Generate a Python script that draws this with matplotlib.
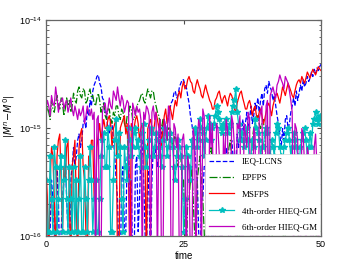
import numpy as np
import matplotlib
matplotlib.use("Agg")
import matplotlib.pyplot as plt

plt.rcParams['font.family'] = ['Liberation Sans', 'DejaVu Sans']

# error values in units of 1e-16, read every 0.25 time units (t = 0 ... 50)
UNIT = 1e-16

ieq_lcns = [2.2, 0.5, 0.5, 1.1, 3.3, 2.2, 1.1, 0.5, 4.4, 2.2, 0.5, 1.1, 2.2, 3.3, 5.5, 2.2, 1.1, 0.5, 3.3, 4.4,
            6.6, 4.4, 5.5, 7.7, 8.8, 6.6, 7.7, 11, 12, 9.9, 15, 13, 18, 16, 22, 25, 27, 30, 31, 26,
            24, 19, 18, 14, 13, 9.9, 8.8, 12, 11, 7.7, 5.5, 3.3, 2.2, 0.5, 0.5, 3.3, 4.4, 1.1, 1.1, 5.5,
            6.6, 2.2, 3.3, 0.5, 0.5, 4.4, 5.5, 1.1, 2.2, 6.6, 7.7, 3.3, 1.1, 0.5, 4.4, 2.2, 0.5, 3.3, 6.6, 5.5,
            6.6, 4.4, 5.5, 9.9, 8.8, 11, 12, 9.9, 9.9, 13, 15, 17, 18, 21, 22, 19, 20, 24, 26, 28,
            28, 25, 24, 20, 17, 13, 11, 8.8, 6.6, 4.4, 3.3, 1.1, 0.5, 2.2, 2.2, 4.4, 4.4, 1.1, 1.1, 3.3,
            3.3, 0.5, 2.2, 1.1, 4.4, 2.2, 5.5, 0.5, 1.1, 3.3, 2.2, 6.6, 4.4, 1.1, 3.3, 7.7, 5.5, 2.2, 4.4, 8.8,
            6.6, 9.9, 7.7, 12, 8.8, 11, 14, 9.9, 12, 16, 11, 13, 17, 15, 19, 14, 18, 21, 16, 23,
            25, 21, 27, 24, 22, 18, 20, 16, 13, 11, 8.8, 6.6, 9.9, 7.7, 12, 13, 9.9, 11, 14, 16,
            19, 16, 22, 18, 21, 25, 22, 28, 24, 26, 30, 27, 29, 33, 30, 35, 32, 36, 34, 37, 39]

epfps = [13, 16, 14, 12, 18, 15, 14, 17, 20, 16, 15, 19, 17, 13, 15, 19, 16, 18, 14, 16,
         21, 18, 17, 22, 24, 20, 19, 23, 22, 17, 18, 21, 23, 19, 20, 17, 16, 19, 21, 18,
         14, 16, 17, 13, 12, 15, 15, 12, 11, 14, 13, 16, 16, 13, 12, 15, 14, 11, 10, 13,
         13, 16, 15, 12, 12, 14, 16, 17, 18, 20, 21, 18, 17, 20, 23, 21, 19, 22, 22, 18,
         16, 14, 13, 11, 9.9, 12, 12, 9.9, 7.7, 10, 10, 8.8, 6.6, 7.7, 8.8, 6.6, 4.4, 5.5, 5.5, 3.3,
         3.3, 1.1, 0.5, 2.2, 2.2, 3.3, 4.4, 2.2, 1.1, 0.5, 3.3, 4.4, 5.5, 3.3, 2.2, 1.1, 0.5, 2.2, 3.3, 5.5,
         6.6, 4.4, 4.4, 3.3, 2.2, 1.1, 0.5, 0.5, 1.1, 2.2, 3.3, 4.4, 4.4, 6.6, 7.7, 5.5, 5.5, 3.3, 2.2, 1.1,
         0.5, 2.2, 3.3, 1.1, 1.1, 3.3, 4.4, 2.2, 2.2, 4.4, 7.7, 9.9, 11, 12, 13, 11, 9.9, 11, 12, 8.8,
         3.3, 2.2, 1.1, 0.5, 0.5, 2.2, 4.4, 3.3, 3.3, 5.5, 5.5, 2.2, 2.2, 0.5, 1.1, 2.2, 3.3, 2.2, 2.2, 4.4,
         4.4, 1.1, 0.5, 0.5, 2.2, 3.3, 3.3, 2.2, 1.1, 1.1, 4.4, 3.3, 2.2, 2.2, 1.1, 0.5, 0.5, 2.2, 3.3, 1.1, 1.1]

msfps = [4.4, 2.2, 0.5, 3.3, 6.6, 5.5, 2.2, 0.5, 5.5, 7.7, 8.8, 3.3, 1.1, 4.4, 3.3, 6.6, 7.7, 2.2, 0.5, 4.4,
         5.5, 7.7, 2.2, 0.5, 6.6, 8.8, 9.9, 4.4, 3.3, 1.1, 0.5, 5.5, 4.4, 7.7, 7.7, 2.2, 2.2, 6.6, 8.8, 11,
         7.7, 10, 12, 9.9, 9.9, 12, 13, 11, 6.6, 9.9, 11, 12, 0.5, 0.5, 10, 11, 12, 13, 8.8, 11,
         3.3, 0.5, 11, 10, 9.9, 12, 13, 11, 7.7, 9.9, 11, 8.8, 5.5, 0.5, 9.9, 11, 12, 10, 8.8, 11,
         14, 12, 10, 12, 6.6, 9.9, 13, 15, 11, 13, 16, 14, 12, 15, 18, 16, 20, 22, 19, 24,
         27, 23, 24, 28, 30, 27, 26, 22, 21, 25, 28, 25, 23, 20, 19, 22, 25, 22, 20, 18,
         17, 15, 15, 18, 19, 21, 22, 19, 17, 19, 20, 18, 16, 19, 21, 20, 18, 15, 14, 17,
         19, 21, 22, 19, 17, 15, 15, 17, 18, 16, 13, 15, 16, 13, 12, 14, 15, 13, 11, 12,
         14, 16, 17, 15, 13, 16, 18, 20, 21, 19, 17, 20, 24, 22, 20, 23, 26, 24, 22, 20,
         19, 22, 25, 27, 28, 26, 30, 28, 26, 29, 33, 31, 29, 32, 35, 33, 31, 34, 37, 35, 34]

hieq4 = [3.3, 1.1, 1.1, 5.5, 2.2, 1.1, 6.7, 4.4, 1.1, 2.2, 4.4, 5.5, 1.1, 3.3, 7.8, 2.2, 1.1, 4.4, 2.2, 1.1,
         4.4, 1.1, 3.3, 1.1, 2.2, 5.5, 1.1, 1.1, 4.4, 2.2, 1.1, 3.3, 6.7, 3.3, 1.1, 2.2, 3.3, 1.1, 1.1, 2.2,
         5.5, 7.8, 8.9, 4.4, 4.4, 10, 6.7, 1.1, 1.1, 3.3, 7.8, 12, 5.5, 8.9, 6.7, 2.2, 1.1, 6.7, 4.4, 3.3,
         10, 7.8, 5.5, 6.7, 8.9, 10, 6.7, 7.8, 5.5, 4.4, 8.9, 11, 6.7, 4.4, 5.5, 7.8, 10, 8.9, 5.5, 6.7,
         8.9, 7.8, 6.7, 5.5, 4.4, 7.8, 10, 8.9, 5.5, 6.7, 8.9, 7.8, 6.7, 4.4, 3.3, 5.5, 7.8, 6.7, 5.5, 4.4,
         1.1, 2.2, 6.7, 5.5, 4.4, 3.3, 7.8, 6.7, 10, 8.9, 6.7, 7.8, 12, 10, 8.9, 5.5, 7.8, 10, 13, 11,
         7.8, 9.9, 11, 13, 16, 14, 12, 10, 8.9, 11, 10, 12, 8.9, 10, 11, 14, 16, 18, 23, 14,
         11, 7.8, 8.9, 7.8, 6.7, 8.9, 10, 7.8, 4.4, 5.5, 7.8, 6.7, 12, 10, 8.9, 7.8, 5.5, 6.7, 6.7, 8.9,
         10, 8.9, 3.3, 5.5, 7.8, 6.7, 5.5, 8.9, 11, 9.9, 6.7, 5.5, 4.4, 6.7, 7.8, 8.9, 10, 7.8, 5.5, 6.7,
         8.9, 7.8, 6.7, 5.5, 4.4, 6.7, 7.8, 8.9, 10, 7.8, 5.5, 6.7, 8.9, 6.7, 11, 12, 14, 12, 11, 13, 12]

hieq6 = [15, 18, 16, 13, 20, 17, 16, 24, 19, 14, 17, 18, 19, 15, 17, 18, 14, 16, 19, 15,
         13, 16, 14, 12, 15, 13, 14, 16, 11, 13, 16, 14, 13, 15, 12, 14, 0.5, 12, 13, 0.5,
         0.5, 14, 16, 17, 13, 15, 19, 16, 15, 22, 20, 18, 24, 19, 16, 20, 18, 14, 16, 18,
         17, 0.5, 0.5, 17, 15, 13, 16, 14, 15, 12, 0.5, 14, 12, 16, 15, 13, 0.5, 14, 16, 12,
         14, 0.5, 9.9, 12, 0.5, 0.5, 12, 9.9, 7.7, 16, 14, 0.5, 0.5, 11, 9.9, 6.6, 8.8, 0.5, 0.5, 7.7,
         8.8, 5.5, 0.5, 5.5, 4.4, 0.5, 0.5, 9.9, 7.7, 0.5, 7.7, 12, 9.9, 0.5, 15, 13, 4.4, 0.5, 0.5, 13,
         6.6, 11, 0.5, 0.5, 11, 9.9, 5.5, 0.5, 0.5, 8.8, 4.4, 12, 9.9, 0.5, 0.5, 13, 11, 6.6, 0.5, 11,
         9.9, 13, 0.5, 0.5, 11, 8.8, 6.6, 14, 12, 0.5, 0.5, 10, 8.8, 0.5, 0.5, 12, 14, 16, 0.5, 0.5,
         16, 18, 0.5, 20, 22, 24, 21, 19, 25, 27, 31, 28, 26, 23, 30, 28, 26, 22, 18, 14,
         0.5, 11, 9.9, 7.7, 0.5, 0.5, 9.9, 8.8, 4.4, 0.5, 6.6, 5.5, 3.3, 0.5, 0.5, 6.6, 8.8, 4.4, 0.5, 3.3, 5.5]

labels = ['IEQ-LCNS', 'EPFPS', 'MSFPS', '4th-order HIEQ-GM', '6th-order HIEQ-GM']
series = [ieq_lcns, epfps, msfps, hieq4, hieq6]
colors = [(0, 0, 1), (0, 0.5, 0), (1, 0, 0), (0, 0.75, 0.75), (0.75, 0, 0.75)]
styles = ['--', '-.', '-', '-*', '-']

fig = plt.figure(figsize=(3.54, 2.67), dpi=100)
ax = fig.add_axes([0.130, 0.116, 0.777, 0.809])

for vals, lab, c, st in zip(series, labels, colors, styles):
    t = np.linspace(0, 50, len(vals))
    ax.plot(t, np.array(vals) * UNIT, st, color=c, lw=0.9, ms=4, label=lab)

ax.set_yscale('log')
ax.set_xlim(0, 50)
ax.set_ylim(1e-16, 1e-14)
ax.set_xticks([0, 25, 50])

for s in ax.spines.values():
    s.set_color('0.4')
    s.set_linewidth(0.9)
ax.tick_params(which='both', direction='in', top=True, right=True, labelsize=6.5, color='0.3', pad=3)
ax.tick_params(which='major', length=3)
ax.tick_params(which='minor', length=1.8)

ax.set_xlabel('time', fontsize=7, labelpad=1)
ax.set_ylabel(r'$|M^n\!-\!M^0|$', fontsize=7)
ax.yaxis.set_label_coords(-0.105, 0.555)

leg = ax.legend(loc='lower right', prop={'family': 'Liberation Serif', 'size': 6.5},
                handlelength=2.8, labelspacing=0.9, borderaxespad=0.1,
                fancybox=False, framealpha=1, edgecolor='0.85')
leg.get_frame().set_linewidth(0.5)

fig.savefig('out.png', dpi=100)
